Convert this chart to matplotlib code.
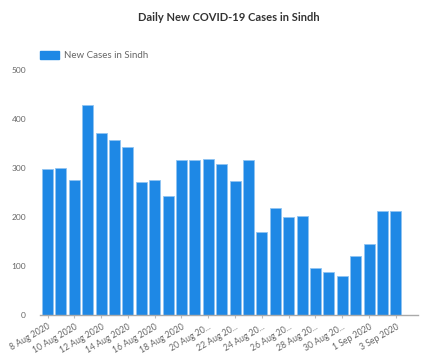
import matplotlib
matplotlib.use("Agg")
import matplotlib.pyplot as plt
from matplotlib.patches import Patch

plt.rcParams['font.family'] = ['Lato', 'DejaVu Sans']

dates = ['8 Aug 2020', '9 Aug 2020', '10 Aug 2020', '11 Aug 2020', '12 Aug 2020',
         '13 Aug 2020', '14 Aug 2020', '15 Aug 2020', '16 Aug 2020', '17 Aug 2020',
         '18 Aug 2020', '19 Aug 2020', '20 Aug 2020', '21 Aug 2020', '22 Aug 2020',
         '23 Aug 2020', '24 Aug 2020', '25 Aug 2020', '26 Aug 2020', '27 Aug 2020',
         '28 Aug 2020', '29 Aug 2020', '30 Aug 2020', '31 Aug 2020', '1 Sep 2020',
         '2 Sep 2020', '3 Sep 2020']
new_cases = [298, 301, 276, 428, 371, 358, 342, 271, 276, 242,
             317, 316, 319, 308, 273, 317, 170, 218, 200, 203,
             97, 88, 79, 120, 145, 212, 212]

blue = '#1E88E5'
grey = '#666666'

fig = plt.figure(figsize=(4.31, 3.58), dpi=100)
ax = fig.add_axes([0.0928, 0.12, 0.877, 0.6845])

x = list(range(len(dates)))
ax.bar(x, new_cases, width=0.82, color=blue, edgecolor='#90C4F2', linewidth=0.6)

ax.set_ylim(0, 500)
ax.set_xlim(-0.56, 27.65)
ax.set_yticks([0, 100, 200, 300, 400, 500])
ax.tick_params(axis='y', length=0, labelsize=6, labelcolor=grey, pad=10)

# every second date, long ones cut short like the original
tick_pos = x[::2]
tick_lbl = []
for i in tick_pos:
    d = dates[i]
    tick_lbl.append(d if i < 12 or i > 23 else d[:7] + '20...')
ax.set_xticks(tick_pos)
ax.set_xticklabels(tick_lbl, rotation=30, ha='right', rotation_mode='anchor')
ax.tick_params(axis='x', length=2, color='#bbbbbb', labelsize=6.2, labelcolor=grey, pad=3)

for s in ['top', 'right', 'left']:
    ax.spines[s].set_visible(False)
ax.spines['bottom'].set_color('#aaaaaa')
ax.spines['bottom'].set_linewidth(1.0)

fig.text(0.53, 0.952, 'Daily New COVID-19 Cases in Sindh', ha='center', va='center',
         fontsize=8, color='#333333', fontweight='bold')

fig.legend(handles=[Patch(color=blue, label='New Cases in Sindh')], loc='center left',
           bbox_to_anchor=(0.072, 0.845), frameon=False, fontsize=7,
           labelcolor=grey, handlelength=2.0, handleheight=1.0, handletextpad=0.5)

fig.savefig('out.png', dpi=100)
